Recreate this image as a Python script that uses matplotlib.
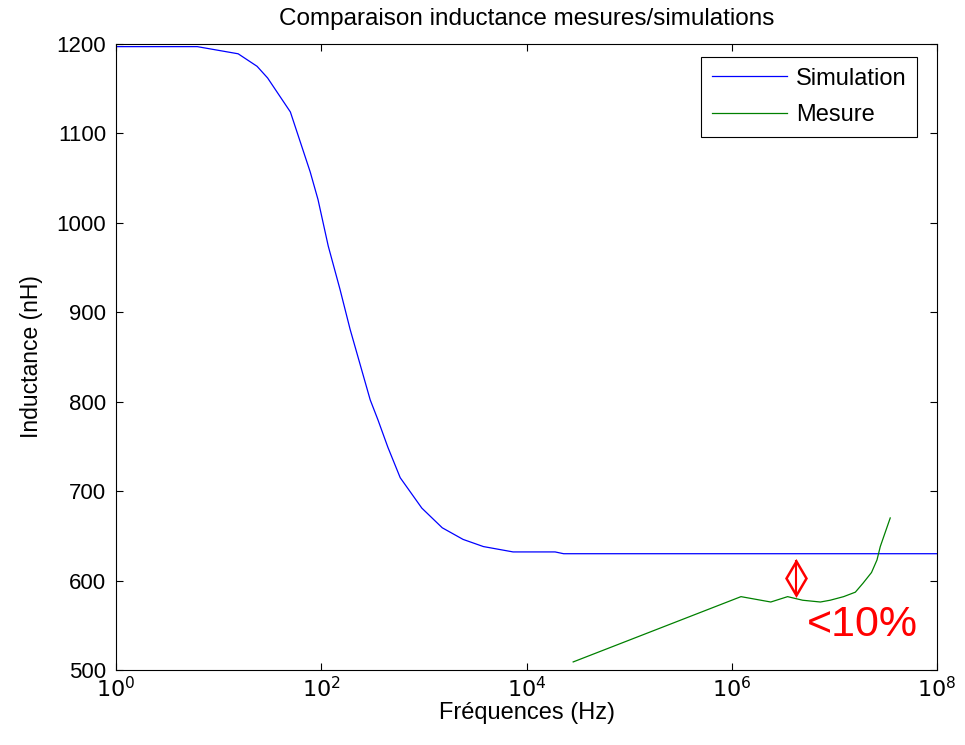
import matplotlib
matplotlib.use("Agg")
import matplotlib.pyplot as plt
import numpy as np

plt.rcParams['font.family'] = ['Liberation Sans', 'DejaVu Sans']

# Simulation (frequency in Hz, inductance in nH)
sim_freq = [1, 6.2, 15.5, 23.7, 30, 50, 78, 93, 117, 152, 191, 300, 356, 446,
            588, 955, 1510, 2410, 3800, 7400, 19000, 23000, 1e8]
sim_ind = [1197, 1197, 1189, 1175, 1162, 1124, 1057, 1026, 974, 926, 881, 802, 780, 749,
           715, 681, 659, 646, 638, 632, 632, 630, 630]

# Measurement
mes_freq = [2.85e4, 1.23e6, 2.4e6, 3.5e6, 4.9e6, 7.3e6, 9.1e6, 1.23e7, 1.6e7,
            1.9e7, 2.3e7, 2.6e7, 2.8e7, 3.5e7]
mes_ind = [509, 582, 576, 582, 578, 576, 578, 582, 587, 597, 609, 623, 638, 670]

xticks = [1, 1e2, 1e4, 1e6, 1e8]
xticklabels = [r'$10^{0}$', r'$10^{2}$', r'$10^{4}$', r'$10^{6}$', r'$10^{8}$']
yticks = [500, 600, 700, 800, 900, 1000, 1100, 1200]

fig = plt.figure(figsize=(9.65, 7.45), dpi=100)
ax = fig.add_axes([0.1202, 0.1007, 0.8508, 0.8403])

ax.plot(sim_freq, sim_ind, color=(0, 0, 1), lw=0.9, label='Simulation')
ax.plot(mes_freq, mes_ind, color=(0, 0.5, 0), lw=0.9, label='Mesure')

ax.set_xscale('log')
ax.set_xlim(1, 1e8)
ax.set_ylim(500, 1200)
ax.set_xticks(xticks)
ax.set_xticklabels(xticklabels)
ax.minorticks_off()
ax.set_yticks(yticks)
ax.tick_params(direction='in', top=True, right=True, labelsize=16, length=5, width=0.8)
ax.tick_params(axis='x', pad=5)
ax.tick_params(axis='y', pad=7)
for s in ax.spines.values():
    s.set_linewidth(0.8)

ax.set_title('Comparaison inductance mesures/simulations', fontsize=17.5, pad=14)
ax.set_xlabel('Fréquences (Hz)', fontsize=17, labelpad=0)
ax.set_ylabel('Inductance (nH)', fontsize=16.5, labelpad=10)

# annotation: difference marker and text
ax.plot([4.2e6, 4.2e6], [585, 622], color='red', lw=1.5)
ax.plot([4.2e6], [603], marker='d', markersize=17, mfc='none', mec='red', mew=1.8)
ax.text(5.4e6, 550, '<10%', color='red', fontsize=31, va='center', ha='left')

leg = ax.legend(loc='upper right', bbox_to_anchor=(0.9756, 0.979), fontsize=17,
                fancybox=False, framealpha=1, edgecolor='black',
                handlelength=3.2, handletextpad=0.35, borderaxespad=0,
                borderpad=0.45, labelspacing=0.6)
leg.get_frame().set_linewidth(0.8)

fig.savefig('out.png', dpi=100)
